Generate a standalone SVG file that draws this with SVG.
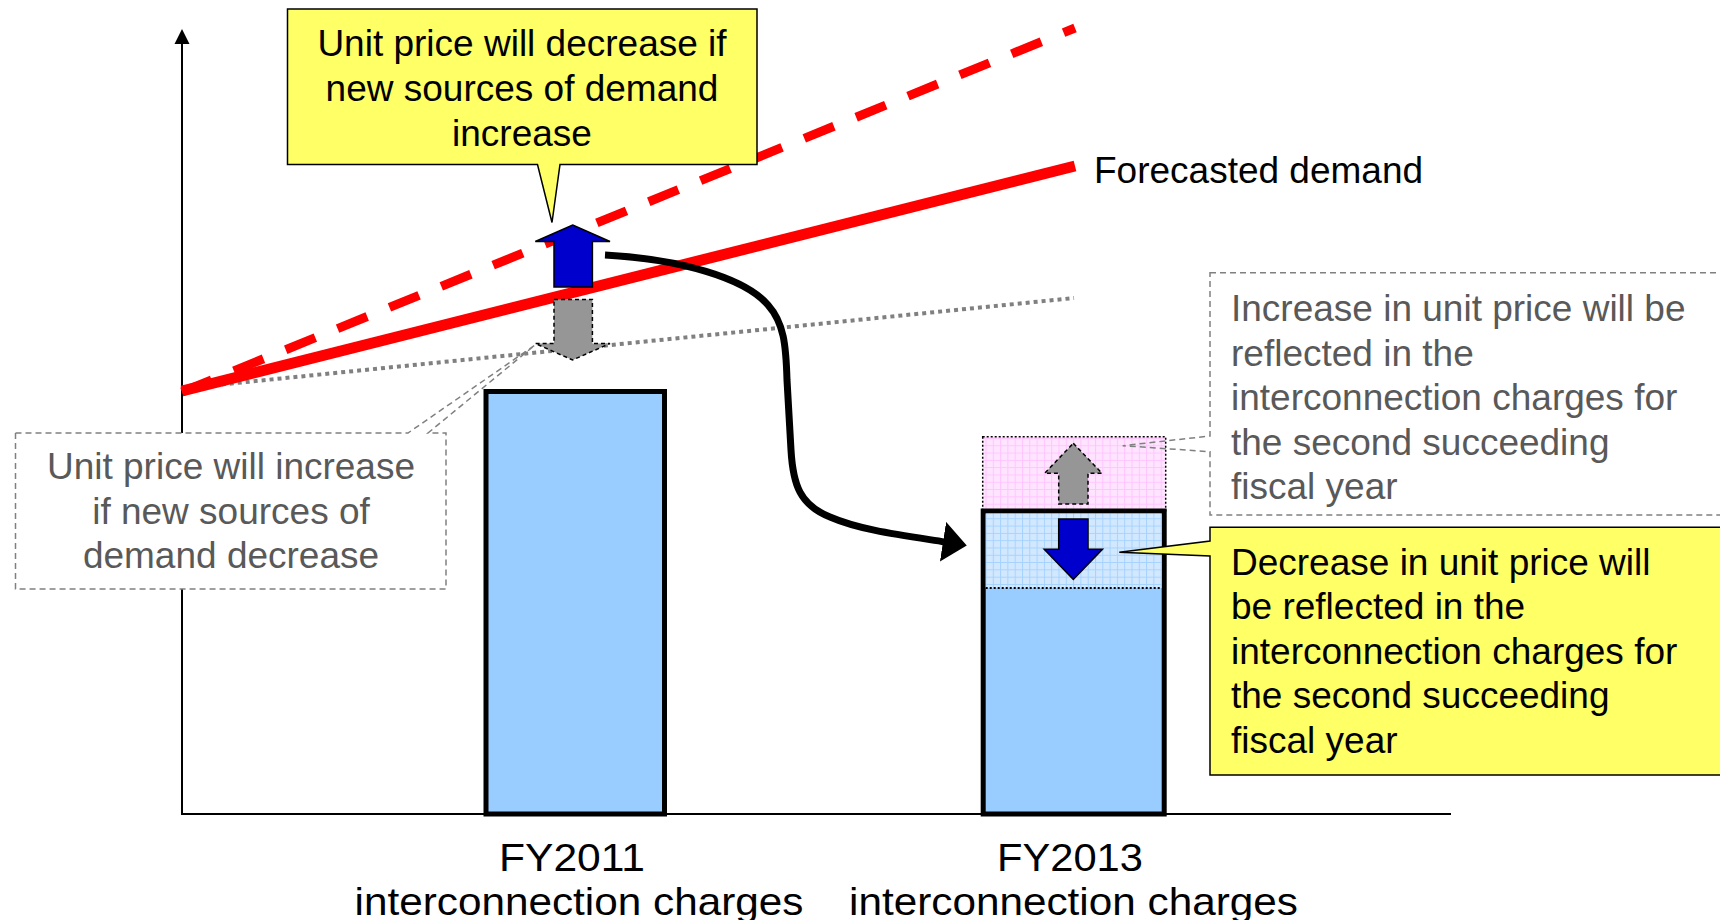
<svg xmlns="http://www.w3.org/2000/svg" width="1720" height="920" viewBox="0 0 1720 920">
<style>
  text { font-family: "Liberation Sans", Arial, sans-serif; }
  .t37 { font-size: 37px; fill: #000000; }
  .g37 { font-size: 37px; fill: #595959; }
  .t42 { font-size: 39px; fill: #000000; }
  .callout { fill: #FFFF66; stroke: #000000; stroke-width: 1.5; }
  .dbox { stroke: #808080; stroke-width: 1.5; stroke-dasharray: 6 4; }
  .bar { fill: #99CCFF; stroke: #000000; stroke-width: 5; }
  .blue { fill: #0000CC; stroke: #000000; stroke-width: 1.5; }
  .gray { fill: #969696; stroke: #000000; stroke-width: 1.5; stroke-dasharray: 4 3; }
  .axis { stroke: #000000; stroke-width: 2; fill: none; }
</style>
<defs>
  <pattern id="pinkGrid" patternUnits="userSpaceOnUse" width="7.3" height="7.3">
    <rect width="7.3" height="7.3" fill="#FFE4FF"/>
    <path d="M0,0.5 H7.3 M0.5,0 V7.3" stroke="#FFC4FF" stroke-width="1"/>
  </pattern>
  <pattern id="blueGrid" patternUnits="userSpaceOnUse" width="7.3" height="7.3">
    <rect width="7.3" height="7.3" fill="#D2E8FF"/>
    <path d="M0,0.5 H7.3 M0.5,0 V7.3" stroke="#A6D2FF" stroke-width="1"/>
  </pattern>
  <marker id="arrowHead" markerUnits="userSpaceOnUse" markerWidth="24" markerHeight="40" viewBox="0 0 24 40" refX="2" refY="20" orient="auto">
    <path d="M0,0 L24,20 L0,40 Z" fill="#000000"/>
  </marker>
</defs>

<g id="axes">
  <line class="axis" x1="182" y1="42" x2="182" y2="815"/>
  <polygon points="182,29 174.5,44 189.5,44" fill="#000000"/>
  <line class="axis" x1="181" y1="814" x2="1451" y2="814"/>
</g>

<g id="note-increase">
  <path class="dbox" fill="#FFFFFF" d="M15.5,433 H408 L535,345 L428,433 H446 V589 H15.5 Z"/>
  <text class="g37" text-anchor="middle" x="231" y="479">Unit price will increase</text>
  <text class="g37" text-anchor="middle" x="231" y="523.5">if new sources of</text>
  <text class="g37" text-anchor="middle" x="231" y="568">demand decrease</text>
</g>

<g id="demand-lines">
  <line x1="182" y1="388.5" x2="1074" y2="298" stroke="#808080" stroke-width="4" stroke-dasharray="4 4"/>
  <line x1="182" y1="392" x2="1075" y2="28" stroke="#FF0000" stroke-width="9" stroke-dasharray="32 24"/>
  <line x1="182" y1="391" x2="1075" y2="166" stroke="#FF0000" stroke-width="11"/>
  <text class="t37" x="1094" y="183">Forecasted demand</text>
</g>

<g id="bar-fy2011">
  <rect class="bar" x="486" y="391.5" width="178.5" height="422.5"/>
  <text class="t42" text-anchor="middle" x="572" y="870.5" textLength="146" lengthAdjust="spacingAndGlyphs">FY2011</text>
  <text class="t42" text-anchor="middle" x="579" y="914.5" textLength="449" lengthAdjust="spacingAndGlyphs">interconnection charges</text>
</g>

<g id="arrow-up-blue">
  <polygon class="blue" points="572.6,225 610,241.5 592.4,241.5 592.4,287 554,287 554,241.5 535.3,241.5"/>
</g>
<g id="arrow-down-gray">
  <polygon class="gray" points="554,299.5 592.4,299.5 592.4,343.5 610,343.5 572.6,360 535.3,343.5 554,343.5"/>
</g>

<g id="bar-fy2013">
  <rect x="982.7" y="436.7" width="183" height="74" fill="url(#pinkGrid)" stroke="#000000" stroke-width="1.5" stroke-dasharray="2 2"/>
  <rect class="bar" x="983.2" y="511" width="181" height="303"/>
  <rect x="985.7" y="513.5" width="176" height="74.5" fill="url(#blueGrid)"/>
  <line x1="985.7" y1="588" x2="1161.7" y2="588" stroke="#000000" stroke-width="2" stroke-dasharray="2 2"/>
  <polygon class="gray" points="1073.3,443.3 1102,473.3 1088,473.3 1088,504 1058.7,504 1058.7,473.3 1044.6,473.3"/>
  <polygon class="blue" points="1058.7,519 1088,519 1088,549.3 1102.5,549.3 1073.3,579.3 1044.2,549.3 1058.7,549.3"/>
  <text class="t42" text-anchor="middle" x="1070" y="870.5" textLength="146" lengthAdjust="spacingAndGlyphs">FY2013</text>
  <text class="t42" text-anchor="middle" x="1073.5" y="914.5" textLength="449" lengthAdjust="spacingAndGlyphs">interconnection charges</text>
</g>

<g id="connectors">
  <path d="M605,255 C680,259 745,278 768,305 C784,323 786,345 787,380 L791,450 C793,485 800,505 830,517 C860,530 900,535 945,542" fill="none" stroke="#000000" stroke-width="7" marker-end="url(#arrowHead)"/>
</g>

<g id="callout-decrease-if-increase">
  <path class="callout" d="M287.5,9 H757 V164.5 H560 L552,222.5 L537.5,164.5 H287.5 Z"/>
  <text class="t37" text-anchor="middle" x="522" y="56">Unit price will decrease if</text>
  <text class="t37" text-anchor="middle" x="522" y="101">new sources of demand</text>
  <text class="t37" text-anchor="middle" x="522" y="145.5">increase</text>
</g>

<g id="note-increase-reflected">
  <path class="dbox" fill="none" d="M1210,272.7 H1730 V515 H1210 V451.7 L1122.7,445.7 L1210,436 Z"/>
  <text class="g37" x="1231" y="321">Increase in unit price will be</text>
  <text class="g37" x="1231" y="365.5">reflected in the</text>
  <text class="g37" x="1231" y="410">interconnection charges for</text>
  <text class="g37" x="1231" y="454.5">the second succeeding</text>
  <text class="g37" x="1231" y="499">fiscal year</text>
</g>

<g id="callout-decrease-reflected">
  <path class="callout" d="M1210,527.3 H1730 V775 H1210 V556 L1119.3,552.3 L1210,541 Z"/>
  <text class="t37" x="1231" y="574.5">Decrease in unit price will</text>
  <text class="t37" x="1231" y="619">be reflected in the</text>
  <text class="t37" x="1231" y="663.5">interconnection charges for</text>
  <text class="t37" x="1231" y="708">the second succeeding</text>
  <text class="t37" x="1231" y="752.5">fiscal year</text>
</g>
</svg>
